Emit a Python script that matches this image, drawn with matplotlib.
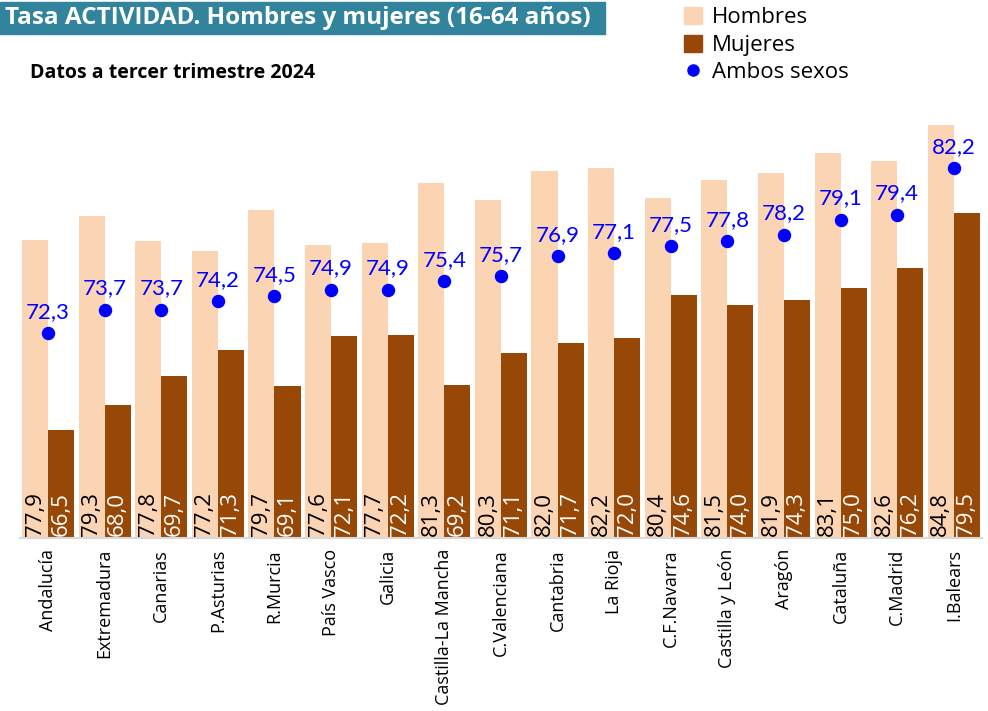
import numpy as np
import matplotlib
matplotlib.use("Agg")
import matplotlib.pyplot as plt
from matplotlib import font_manager
from matplotlib.patches import Rectangle, Patch
from matplotlib.lines import Line2D

# datos
regiones = ["Andalucía", "Extremadura", "Canarias", "P.Asturias", "R.Murcia", "País Vasco",
            "Galicia", "Castilla-La Mancha", "C.Valenciana", "Cantabria", "La Rioja",
            "C.F.Navarra", "Castilla y León", "Aragón", "Cataluña", "C.Madrid", "I.Balears"]
hombres = [77.9, 79.3, 77.8, 77.2, 79.7, 77.6, 77.7, 81.3, 80.3, 82.0, 82.2, 80.4, 81.5, 81.9, 83.1, 82.6, 84.8]
mujeres = [66.5, 68.0, 69.7, 71.3, 69.1, 72.1, 72.2, 69.2, 71.1, 71.7, 72.0, 74.6, 74.0, 74.3, 75.0, 76.2, 79.5]
ambos = [72.3, 73.7, 73.7, 74.2, 74.5, 74.9, 74.9, 75.4, 75.7, 76.9, 77.1, 77.5, 77.8, 78.2, 79.1, 79.4, 82.2]

# fuente estrecha si existe
try:
    font_manager.findfont("Liberation Sans Narrow", fallback_to_default=False)
    narrow = "Liberation Sans Narrow"
except Exception:
    narrow = "Open Sans"

C_H = "#FBD4B4"
C_M = "#974706"
C_A = "#0000FF"

fig = plt.figure(figsize=(9.88, 7.11), dpi=100)
ax = fig.add_axes([0.02, 0.2433, 0.974, 0.7033])

x = np.arange(len(regiones))
w = 0.46
ax.bar(x - w/2, hombres, w, color=C_H)
ax.bar(x + w/2, mujeres, w, color=C_M)
ax.scatter(x, ambos, s=75, color=C_A, zorder=3)

ax.set_ylim(60, 90)
ax.set_xlim(-0.5, len(regiones) - 0.5)

# etiquetas de valores
for i in range(len(regiones)):
    ax.text(x[i] - w/2, 60.1, f"{hombres[i]:.1f}".replace(".", ","), rotation=90,
            ha="center", va="bottom", fontsize=16, color="black", family=narrow)
    ax.text(x[i] + w/2, 60.1, f"{mujeres[i]:.1f}".replace(".", ","), rotation=90,
            ha="center", va="bottom", fontsize=16, color="white", family=narrow)
    ax.annotate(f"{ambos[i]:.1f}".replace(".", ","), (x[i], ambos[i]), xytext=(0, 8),
                textcoords="offset points", ha="center", va="bottom", fontsize=16,
                color=C_A, family="Lato")

ax.set_xticks(x)
ax.set_xticklabels(regiones, rotation=90, fontsize=13, family=narrow)
ax.tick_params(axis="x", length=0, pad=8)
ax.set_yticks([])
for s in ["top", "right", "left"]:
    ax.spines[s].set_visible(False)
ax.spines["bottom"].set_color("#D9D9D9")
ax.spines["bottom"].set_linewidth(1.5)

# titulo con fondo
fig.patches.append(Rectangle((0, 1 - 34/711), 605/988, 32/711, transform=fig.transFigure,
                             color="#31849B", zorder=0))
fig.text(5/988, 1 - 18/711, "Tasa ACTIVIDAD. Hombres y mujeres (16-64 años)", color="white",
         fontsize=17.5, fontweight="bold", family="Open Sans", va="center", ha="left")
fig.text(30/988, 1 - 73/711, "Datos a tercer trimestre 2024", color="black",
         fontsize=14, fontweight="bold", family="Open Sans", va="center", ha="left")

# leyenda
handles = [Patch(color=C_H, label="Hombres"), Patch(color=C_M, label="Mujeres"),
           Line2D([], [], marker="o", ls="", color=C_A, markersize=8, label="Ambos sexos")]
fig.legend(handles=handles, loc="upper left", bbox_to_anchor=(664/988, 1.018), frameon=False,
           handlelength=0.8, handleheight=0.8, handletextpad=0.45, labelspacing=0.28,
           prop={"family": "Open Sans", "size": 16})

fig.savefig("out.png", dpi=100)
